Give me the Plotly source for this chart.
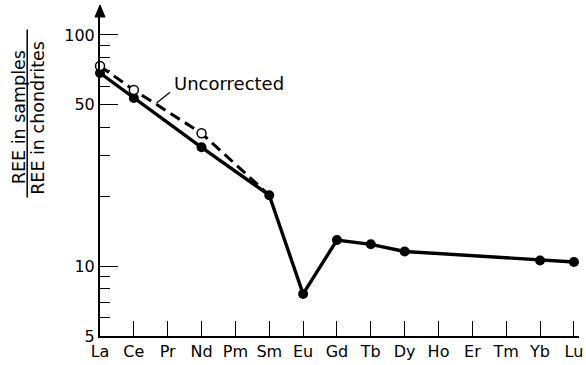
import plotly.graph_objects as go
import math

elements = ["La", "Ce", "Pr", "Nd", "Pm", "Sm", "Eu", "Gd", "Tb", "Dy", "Ho", "Er", "Tm", "Yb", "Lu"]

corr_el = ["La", "Ce", "Nd", "Sm", "Eu", "Gd", "Tb", "Dy", "Yb", "Lu"]
corr_val = [68.5, 53.4, 32.7, 20.3, 7.6, 13.0, 12.45, 11.6, 10.6, 10.45]

unc_el = ["La", "Ce", "Nd", "Sm"]
unc_val = [73.4, 57.8, 37.6, 20.3]

ytick_vals = [5, 10, 50, 100]
ytick_text = ["5", "10", "50", "100"]
yminor_vals = [6, 7, 8, 9, 20, 30, 40, 60, 70, 80, 90]

FONT = "DejaVu Sans"
ix = {e: i for i, e in enumerate(elements)}

fig = go.Figure()
# dashed uncorrected line
fig.add_trace(go.Scatter(
    x=[ix[e] for e in unc_el], y=unc_val, mode="lines",
    line=dict(color="black", width=3, dash="11px,6px"), showlegend=False, cliponaxis=False))
# solid corrected line
fig.add_trace(go.Scatter(
    x=[ix[e] for e in corr_el], y=corr_val, mode="lines+markers",
    line=dict(color="black", width=3.4), marker=dict(color="black", size=10),
    showlegend=False, cliponaxis=False))
# open circles for uncorrected
fig.add_trace(go.Scatter(
    x=[ix[e] for e in unc_el[:-1]], y=unc_val[:-1], mode="markers",
    marker=dict(color="white", size=9, line=dict(color="black", width=1.5)),
    showlegend=False, cliponaxis=False))

fig.update_layout(
    width=586, height=365,
    margin=dict(l=100, r=3, t=10, b=29),
    paper_bgcolor="white", plot_bgcolor="white",
    font=dict(family=FONT, size=16, color="black"),
    xaxis=dict(
        range=[0, 14.15], showgrid=False, zeroline=False,
        showline=True, linecolor="black", linewidth=2,
        tickmode="array", tickvals=list(range(len(elements))), ticktext=elements,
        ticks="inside", ticklen=15, tickwidth=1, tickcolor="black",
        tickfont=dict(family=FONT, size=16), ticklabeloverflow="allow",
    ),
    yaxis=dict(
        type="log", range=[math.log10(5), 2.108], showgrid=False, zeroline=False,
        showline=True, linecolor="black", linewidth=2,
        tickmode="array", tickvals=ytick_vals, ticktext=ytick_text,
        ticks="inside", ticklen=18, tickwidth=1, tickcolor="black",
        tickfont=dict(family=FONT, size=16),
        minor=dict(tickmode="array", tickvals=yminor_vals, ticks="inside",
                   ticklen=10, tickwidth=1, tickcolor="black", showgrid=False),
    ),
)

# arrow at top of y axis
fig.add_shape(type="path", xref="paper", yref="paper", xsizemode="pixel", ysizemode="pixel",
              xanchor=0, yanchor=1, path="M -5,-7 L 5,-7 L 0,5 Z",
              fillcolor="black", line=dict(color="black", width=1))

# Uncorrected label and leader
fig.add_annotation(x=2.12, y=math.log10(62), text="Uncorrected", showarrow=False,
                   xanchor="left", yanchor="middle", font=dict(family=FONT, size=18))
fig.add_annotation(x=(157 - 100) / 34.14, y=math.log10(50.8), text="", showarrow=True,
                   arrowhead=0, arrowwidth=1.2, arrowcolor="black", ax=15, ay=-12)

# y-axis title as fraction
fig.add_annotation(xref="paper", yref="paper", x=-0.170, y=0.67, text="REE in samples",
                   xanchor="center", yanchor="middle",
                   textangle=-90, showarrow=False, font=dict(family=FONT, size=17.5))
fig.add_annotation(xref="paper", yref="paper", x=-0.131, y=0.67, text="REE in chondrites",
                   xanchor="center", yanchor="middle",
                   textangle=-90, showarrow=False, font=dict(family=FONT, size=17.5))
fig.add_shape(type="line", xref="paper", yref="paper", x0=-0.152, x1=-0.152, y0=0.425, y1=0.94,
              line=dict(color="black", width=1.5))

fig.write_html("out.html", config={"displayModeBar": False},
               post_script="document.body.style.margin='0';document.body.style.padding='0';")
